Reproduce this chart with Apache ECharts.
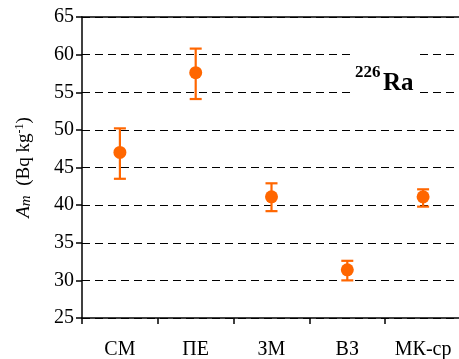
<!DOCTYPE html>
<html><head><meta charset="utf-8">
<script src="https://cdn.jsdelivr.net/npm/echarts@6/dist/echarts.min.js"></script>
<style>html,body{margin:0;padding:0;background:#fff}#c{width:459px;height:359px}</style>
</head><body><div id="c"></div>
<script>
const categories = ['СМ', 'ПЕ', 'ЗМ', 'ВЗ', 'МК-ср'];
const meanValues = [47.0, 57.6, 41.1, 31.4, 41.1];
const lowValues = [43.5, 54.1, 39.2, 30.0, 39.8];
const highValues = [50.2, 60.8, 42.9, 32.6, 42.1];
const yTicks = [25, 30, 35, 40, 45, 50, 55, 60, 65];

const FONT = "'Times New Roman', 'Liberation Serif', 'DejaVu Serif', serif";
const ORANGE = '#FF6600';
const chart = echarts.init(document.getElementById('c'), null, {renderer: 'canvas'});

const errData = categories.map((c, i) => [i, lowValues[i], highValues[i]]);

chart.setOption({
  animation: false,
  textStyle: {fontFamily: FONT},
  grid: {left: 82, top: 17, right: -2, bottom: 41, containLabel: false, outerBoundsMode: 'none'},
  xAxis: [{
    type: 'category', data: categories, boundaryGap: true,
    axisLine: {lineStyle: {color: '#000', width: 1.5}},
    axisTick: {show: true, length: 6, lineStyle: {color: '#000', width: 1.5}},
    axisLabel: {fontFamily: FONT, fontSize: 20, color: '#000', margin: 22}
  }, {
    type: 'category', data: categories, position: 'top',
    axisLine: {show: true, onZero: false, lineStyle: {color: '#000', width: 1.5}},
    axisTick: {show: false}, axisLabel: {show: false}
  }],
  yAxis: {
    type: 'value', min: yTicks[0], max: yTicks[yTicks.length - 1], interval: 5,
    axisLine: {show: true, lineStyle: {color: '#000', width: 1.5}},
    axisTick: {show: true, length: 6, lineStyle: {color: '#000', width: 1.5}},
    axisLabel: {fontFamily: FONT, fontSize: 20, color: '#000', margin: 8},
    splitLine: {show: true, lineStyle: {color: '#000', width: 1, type: [8, 5]}},
    name: '{it|A}{its|m}{n|  (Bq kg}{sup|-1}{n|)}',
    nameLocation: 'middle', nameGap: 48, nameRotate: 90,
    nameTextStyle: {
      fontFamily: FONT,
      rich: {
        it: {fontFamily: FONT, fontStyle: 'italic', fontSize: 19, color: '#000'},
        its: {fontFamily: FONT, fontStyle: 'italic', fontSize: 15, color: '#000', verticalAlign: 'bottom'},
        n: {fontFamily: FONT, fontSize: 19, color: '#000'},
        sup: {fontFamily: FONT, fontSize: 12, color: '#000', verticalAlign: 'top', padding: [0, 0, 8, 0]}
      }
    }
  },
  series: [{
    type: 'custom',
    data: errData,
    renderItem: function (params, api) {
      const x = api.coord([api.value(0), api.value(1)])[0];
      const yLo = api.coord([api.value(0), api.value(1)])[1];
      const yHi = api.coord([api.value(0), api.value(2)])[1];
      const hw = 6;
      const st = {stroke: ORANGE, lineWidth: 2.2, fill: null};
      return {type: 'group', children: [
        {type: 'line', shape: {x1: x, y1: yLo, x2: x, y2: yHi}, style: st},
        {type: 'line', shape: {x1: x - hw, y1: yLo, x2: x + hw, y2: yLo}, style: st},
        {type: 'line', shape: {x1: x - hw, y1: yHi, x2: x + hw, y2: yHi}, style: st}
      ]};
    },
    z: 3
  }, {
    type: 'scatter', data: meanValues, symbol: 'circle', symbolSize: 13,
    itemStyle: {color: ORANGE, opacity: 1}, z: 4
  }],
  graphic: [{
    type: 'rect', shape: {x: 353, y: 48, width: 67, height: 50},
    style: {fill: '#fff'}, z: 10
  }, {
    type: 'text', x: 355, y: 64, z: 11,
    style: {text: '226', fontFamily: FONT, fontWeight: 'bold', fontSize: 17, fill: '#000'}
  }, {
    type: 'text', x: 383, y: 71, z: 11,
    style: {text: 'Ra', fontFamily: FONT, fontWeight: 'bold', fontSize: 25, fill: '#000'}
  }]
});
</script></body></html>
